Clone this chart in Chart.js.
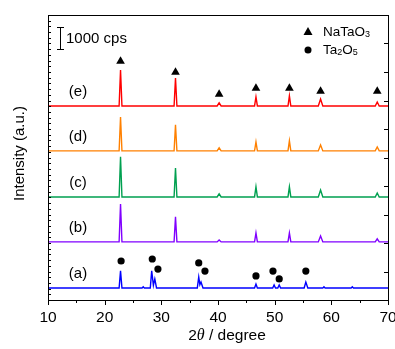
<!DOCTYPE html>
<html>
<head>
<meta charset="utf-8">
<script src="https://cdn.jsdelivr.net/npm/chart.js@4.4.0/dist/chart.umd.min.js"></script>
<style>
  html, body { margin: 0; padding: 0; background: #fff; }
</style>
</head>
<body>
<canvas id="myChart" width="395" height="349"></canvas>
<script>
// XRD patterns, intensity in cps above each pattern's baseline
const sampleLabels = ['(a)', '(b)', '(c)', '(d)', '(e)'];
const sampleColors = ['#0000ff', '#8000ff', '#00a050', '#ff8000', '#ff0000'];
const baselineOffsets = [550, 2650, 4700, 6800, 8850];

// NaTaO3 patterns (b)-(e) share these angles
const angleNa = [10, 22.55, 22.8, 23.05, 32.25, 32.5, 32.75, 39.85, 40.2, 40.55, 46.45, 46.7, 46.95, 52.35, 52.6, 52.85, 57.7, 58.1, 58.5, 67.75, 68.1, 68.45, 70];
const intensityB = [0, 0, 1730, 0, 0, 1140, 0, 0, 90, 0, 0, 410, 0, 0, 410, 0, 0, 270, 0, 0, 140, 0, 0];
const intensityC = [0, 0, 1830, 0, 0, 1320, 0, 0, 140, 0, 0, 460, 0, 0, 460, 0, 0, 320, 0, 0, 180, 0, 0];
const intensityD = [0, 0, 1550, 0, 0, 1190, 0, 0, 140, 0, 0, 410, 0, 0, 460, 0, 0, 270, 0, 0, 180, 0, 0];
const intensityE = [0, 0, 1640, 0, 0, 1280, 0, 0, 140, 0, 0, 410, 0, 0, 460, 0, 0, 320, 0, 0, 180, 0, 0];

// Ta2O5 pattern (a)
const angleA = [10, 22.55, 22.8, 23.05, 26.6, 26.8, 27.0, 28.05, 28.3, 28.6, 28.85, 29.15, 36.35, 36.6, 36.8, 37.0, 37.35, 46.45, 46.7, 46.95, 49.65, 49.9, 50.15, 50.55, 50.8, 51.05, 55.2, 55.5, 55.85, 58.5, 58.7, 58.9, 63.5, 63.7, 63.9, 70];
const intensityA = [0, 0, 780, 0, 0, 50, 0, 0, 780, 120, 410, 0, 0, 500, 150, 270, 0, 0, 180, 0, 0, 140, 0, 0, 140, 0, 0, 270, 0, 0, 50, 0, 0, 50, 0, 0];

// phase markers
const triangleAngles = [22.8, 32.5, 40.2, 46.7, 52.6, 58.1, 68.1];
const triangleHeights = [10890, 10390, 9380, 9660, 9660, 9520, 9520];
const circleAngles = [22.9, 28.4, 29.4, 36.6, 37.7, 46.7, 49.7, 50.8, 55.5];
const circleHeights = [1780, 1870, 1410, 1690, 1320, 1100, 1320, 960, 1320];

const xTicks = [10, 20, 30, 40, 50, 60, 70];
const scaleBarFrom = 11450;
const scaleBarCps = 1000;

const angleSets = [angleA, angleNa, angleNa, angleNa, angleNa];
const intensitySets = [intensityA, intensityB, intensityC, intensityD, intensityE];

const datasets = [];
for (let i = 0; i < 5; i++) {
  datasets.push({
    type: 'line',
    label: sampleLabels[i],
    data: angleSets[i].map((x, k) => ({ x: x, y: intensitySets[i][k] + baselineOffsets[i] })),
    borderColor: sampleColors[i],
    borderWidth: 1.4,
    pointRadius: 0,
    tension: 0,
    fill: false,
    order: 2
  });
}
datasets.push({
  type: 'scatter',
  label: 'NaTaO3',
  data: triangleAngles.map((x, k) => ({ x: x, y: triangleHeights[k] })),
  pointStyle: 'triangle',
  pointRadius: 5,
  backgroundColor: '#000',
  borderColor: '#000',
  borderWidth: 0,
  order: 1
});
datasets.push({
  type: 'scatter',
  label: 'Ta2O5',
  data: circleAngles.map((x, k) => ({ x: x, y: circleHeights[k] })),
  pointStyle: 'circle',
  pointRadius: 3.6,
  backgroundColor: '#000',
  borderColor: '#000',
  borderWidth: 0,
  order: 1
});

const FONT = '"Liberation Sans", Arial, sans-serif';

function drawSub(ctx, parts, x, y) {
  // parts: [text, isSub]
  let cx = x;
  parts.forEach(p => {
    ctx.font = p[1] ? '9px ' + FONT : '13.5px ' + FONT;
    ctx.fillText(p[0], cx, p[1] ? y + 3 : y);
    cx += ctx.measureText(p[0]).width;
  });
}

const decorations = {
  id: 'decorations',
  afterDraw(chart) {
    const ctx = chart.ctx;
    const a = chart.chartArea;
    const xs = chart.scales.x;
    const ys = chart.scales.y;
    ctx.save();
    ctx.strokeStyle = '#000';
    ctx.fillStyle = '#000';
    ctx.lineWidth = 1;

    // frame
    ctx.strokeRect(Math.round(a.left) + 0.5, Math.round(a.top) + 0.5, Math.round(a.right - a.left), Math.round(a.bottom - a.top));

    // x ticks (outward), major + minor
    ctx.beginPath();
    for (let v = 10; v <= 70; v += 5) {
      const px = Math.round(xs.getPixelForValue(v)) + 0.5;
      ctx.moveTo(px, a.bottom);
      ctx.lineTo(px, a.bottom + (v % 10 === 0 ? 5 : 3));
    }
    // left axis minor ticks (inward)
    for (let v = 0; v <= 13000; v += 260) {
      const py = Math.round(ys.getPixelForValue(v)) + 0.5;
      ctx.moveTo(a.left, py);
      ctx.lineTo(a.left + 3, py);
    }
    // right axis ticks (inward)
    for (let v = 1300; v < 13000; v += 1300) {
      const py = Math.round(ys.getPixelForValue(v)) + 0.5;
      ctx.moveTo(a.right, py);
      ctx.lineTo(a.right - 4, py);
    }
    ctx.stroke();

    // x tick labels
    ctx.font = '15.5px ' + FONT;
    ctx.textAlign = 'center';
    ctx.textBaseline = 'middle';
    xTicks.forEach(v => ctx.fillText(String(v), xs.getPixelForValue(v), 318));

    // x title: 2θ / degree
    ctx.textAlign = 'left';
    ctx.textBaseline = 'alphabetic';
    const t1 = '2', t2 = '\u03b8', t3 = ' / degree';
    ctx.font = '15.5px ' + FONT;
    const w1 = ctx.measureText(t1).width;
    const w3 = ctx.measureText(t3).width;
    ctx.font = 'italic 16px "Liberation Serif", "Times New Roman", serif';
    const w2 = ctx.measureText(t2).width;
    let sx = 227 - (w1 + w2 + w3) / 2;
    const by = 340;
    ctx.font = '15.5px ' + FONT;
    ctx.fillText(t1, sx, by);
    ctx.font = 'italic 16px "Liberation Serif", "Times New Roman", serif';
    ctx.fillText(t2, sx + w1, by);
    ctx.font = '15.5px ' + FONT;
    ctx.fillText(t3, sx + w1 + w2, by);

    // y title
    ctx.save();
    ctx.translate(20, 153.5);
    ctx.rotate(-Math.PI / 2);
    ctx.textAlign = 'center';
    ctx.textBaseline = 'middle';
    ctx.font = '15px ' + FONT;
    ctx.fillText('Intensity (a.u.)', 0, 0);
    ctx.restore();

    // sample labels
    ctx.textAlign = 'center';
    ctx.textBaseline = 'middle';
    ctx.font = '15px ' + FONT;
    sampleLabels.forEach((lab, i) => {
      ctx.fillText(lab, 78, ys.getPixelForValue(baselineOffsets[i]) - 14);
    });

    // scale bar
    const y0 = Math.round(ys.getPixelForValue(scaleBarFrom)) + 0.5;
    const y1 = Math.round(ys.getPixelForValue(scaleBarFrom + scaleBarCps)) + 0.5;
    ctx.beginPath();
    ctx.moveTo(60.5, y0); ctx.lineTo(60.5, y1);
    ctx.moveTo(57, y0); ctx.lineTo(64, y0);
    ctx.moveTo(57, y1); ctx.lineTo(64, y1);
    ctx.stroke();
    ctx.textAlign = 'left';
    ctx.fillText('1000 cps', 66, (y0 + y1) / 2);

    // legend
    ctx.beginPath();
    ctx.moveTo(308, 27);
    ctx.lineTo(312.5, 35);
    ctx.lineTo(303.5, 35);
    ctx.closePath();
    ctx.fill();
    ctx.beginPath();
    ctx.arc(308, 50, 3.5, 0, Math.PI * 2);
    ctx.fill();
    ctx.textBaseline = 'middle';
    drawSub(ctx, [['NaTaO', false], ['3', true]], 323, 32);
    drawSub(ctx, [['Ta', false], ['2', true], ['O', false], ['5', true]], 323, 50);

    ctx.restore();
  }
};

const ctx = document.getElementById('myChart');
const myChart = new Chart(ctx, {
  data: { datasets: datasets },
  options: {
    responsive: false,
    animation: false,
    devicePixelRatio: 1,
    layout: { padding: { top: 15, right: 7, left: 0, bottom: 0 } },
    plugins: { legend: { display: false }, tooltip: { enabled: false } },
    scales: {
      x: {
        type: 'linear',
        min: 10,
        max: 70,
        ticks: { display: false },
        grid: { display: false },
        border: { display: false },
        afterFit: (scale) => { scale.height = 49; }
      },
      y: {
        type: 'linear',
        min: 0,
        max: 13000,
        ticks: { display: false },
        grid: { display: false },
        border: { display: false },
        afterFit: (scale) => { scale.width = 48; }
      }
    }
  },
  plugins: [decorations]
});
</script>
</body>
</html>
